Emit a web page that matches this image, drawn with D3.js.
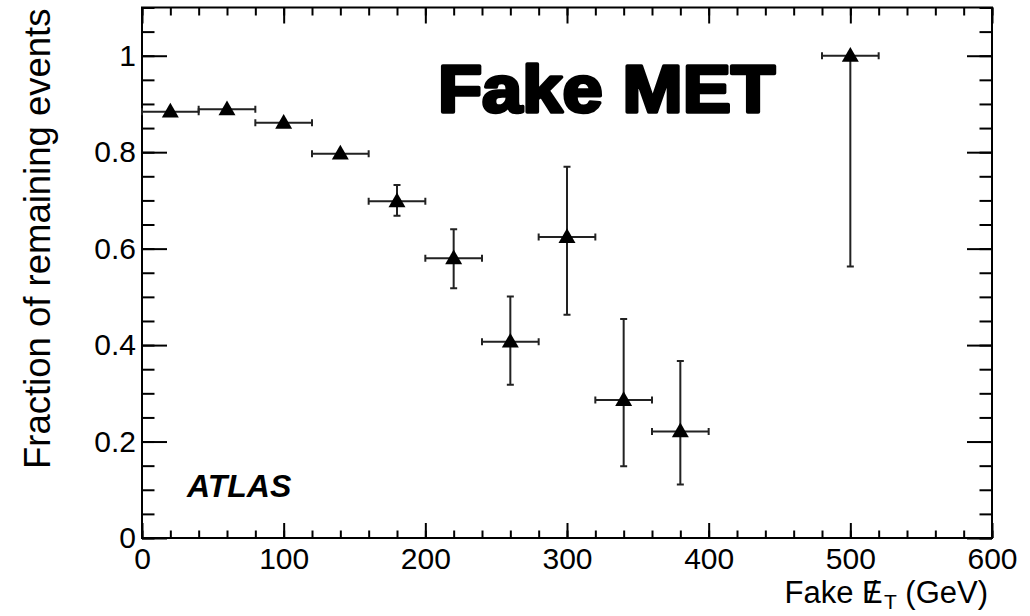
<!DOCTYPE html>
<html>
<head>
<meta charset="utf-8">
<script src="https://cdn.jsdelivr.net/npm/d3@7"></script>
<style>
  body { margin: 0; background: #fff; }
  text { font-family: "Liberation Sans", Arial, sans-serif; fill: #000; }
</style>
</head>
<body>
<script>
var width = 1030;
var height = 616;

var margin = {
    top: 7.5,
    left: 142,
    right: 38,
    bottom: 78
};

var innerWidth = width - margin.left - margin.right;
var innerHeight = height - margin.top - margin.bottom;

// fake MET bins (GeV) and fraction of remaining events
var binCenters = [20, 60, 100, 140, 180, 220, 260, 300, 340, 380, 500];
var binHalfWidth = [20, 20, 20, 20, 20, 20, 20, 20, 20, 20, 20];
var fractions = [0.884, 0.889, 0.861, 0.797, 0.698, 0.580, 0.407, 0.624, 0.286, 0.221, 1.0];
var errUp = [0, 0, 0, 0, 0.034, 0.060, 0.094, 0.146, 0.168, 0.146, 0];
var errDown = [0, 0, 0, 0, 0.030, 0.062, 0.089, 0.161, 0.137, 0.110, 0.437];

var xTicks = [0, 100, 200, 300, 400, 500, 600];
var yTicks = [0, 0.2, 0.4, 0.6, 0.8, 1];
var xMinor = d3.range(0, 601, 20);
var yMinor = d3.range(0, 1.1001, 0.05);

var data = binCenters.map(function (c, i) {
    return {
        x: c,
        xe: binHalfWidth[i],
        y: fractions[i],
        up: errUp[i],
        down: errDown[i]
    };
});

var svg = d3.select("body").append("svg")
    .attr("width", width)
    .attr("height", height);

var g = svg.append('g')
    .attr('transform', 'translate(' + margin.left + ',' + margin.top + ')');

var x = d3.scaleLinear()
    .domain([0, 600])
    .range([0, innerWidth]);

var y = d3.scaleLinear()
    .domain([0, 1.1])
    .range([innerHeight, 0]);

// ticks on all four sides, pointing inward
function addAxis(axis, tx, ty, labels) {
    var a = g.append('g')
        .attr('transform', 'translate(' + tx + ',' + ty + ')')
        .call(axis);
    a.select('.domain').remove();
    a.selectAll('line').attr('stroke', '#000').attr('stroke-width', 2);
    if (!labels) a.selectAll('text').remove();
    return a;
}

addAxis(d3.axisBottom(x).tickValues(xMinor).tickSize(-7.5), 0, innerHeight, false);
var xa = addAxis(d3.axisBottom(x).tickValues(xTicks).tickSize(-15).tickPadding(10)
    .tickFormat(function (d) { return d; }), 0, innerHeight, true);
xa.selectAll('text').style('font-size', '30px');

addAxis(d3.axisTop(x).tickValues(xMinor).tickSize(-8), 0, 0, false);
addAxis(d3.axisTop(x).tickValues(xTicks).tickSize(-16), 0, 0, false);

addAxis(d3.axisLeft(y).tickValues(yMinor).tickSize(-12.5), 0, 0, false);
var ya = addAxis(d3.axisLeft(y).tickValues(yTicks).tickSize(-25).tickPadding(6)
    .tickFormat(function (d) { return d; }), 0, 0, true);
ya.selectAll('text').style('font-size', '30px');

addAxis(d3.axisRight(y).tickValues(yMinor).tickSize(-12.5), innerWidth, 0, false);
addAxis(d3.axisRight(y).tickValues(yTicks).tickSize(-25), innerWidth, 0, false);

g.append('rect')
    .attr('width', innerWidth)
    .attr('height', innerHeight)
    .attr('fill', 'none')
    .attr('stroke', '#000')
    .attr('stroke-width', 2);

// error bars
var cap = 3.5;
var eb = g.append('g').attr('stroke', '#222').attr('stroke-width', 2).attr('fill', 'none');

eb.selectAll('.hbar')
    .data(data)
    .join('path')
    .attr('d', function (d) {
        var x0 = x(d.x - d.xe), x1 = x(d.x + d.xe), yy = y(d.y);
        return 'M' + x0 + ',' + yy + 'H' + x1 +
            'M' + x0 + ',' + (yy - cap) + 'V' + (yy + cap) +
            'M' + x1 + ',' + (yy - cap) + 'V' + (yy + cap);
    });

eb.selectAll('.vbar')
    .data(data.filter(function (d) { return d.up > 0 || d.down > 0; }))
    .join('path')
    .attr('d', function (d) {
        var xx = x(d.x), y0 = y(d.y + d.up), y1 = y(d.y - d.down);
        var p = 'M' + xx + ',' + y0 + 'V' + y1;
        if (d.up > 0) p += 'M' + (xx - cap) + ',' + y0 + 'H' + (xx + cap);
        if (d.down > 0) p += 'M' + (xx - cap) + ',' + y1 + 'H' + (xx + cap);
        return p;
    });

// triangle markers
var tri = d3.symbol().type(d3.symbolTriangle).size(125);
g.selectAll('.marker')
    .data(data)
    .join('path')
    .attr('d', tri)
    .attr('transform', function (d) {
        return 'translate(' + x(d.x) + ',' + (y(d.y) + 1) + ')';
    })
    .attr('fill', '#000');

// texts
svg.append('text')
    .attr('x', 438)
    .attr('y', 112)
    .attr('textLength', 337)
    .attr('lengthAdjust', 'spacingAndGlyphs')
    .style('font-size', '66px')
    .style('font-weight', 'bold')
    .style('stroke', '#000')
    .style('stroke-width', 3.5)
    .style('stroke-linejoin', 'round')
    .text('Fake MET');

svg.append('text')
    .attr('x', 187)
    .attr('y', 497)
    .style('font-size', '32px')
    .style('font-weight', 'bold')
    .style('font-style', 'italic')
    .text('ATLAS');

svg.append('text')
    .attr('transform', 'translate(50,' + (margin.top + 1) + ') rotate(-90)')
    .attr('text-anchor', 'end')
    .style('font-size', '36.5px')
    .text('Fraction of remaining events');

// E with a slash through it, subscript T
var xt = svg.append('text')
    .attr('x', 988)
    .attr('y', 603)
    .attr('text-anchor', 'end')
    .style('font-size', '31px');
xt.append('tspan').text('Fake E');
xt.append('tspan').attr('dx', -14.5).text('/');
xt.append('tspan').attr('dx', 7).attr('dy', 6).style('font-size', '21px').text('T');
xt.append('tspan').attr('dy', -6).text(' (GeV)');
</script>
</body>
</html>
